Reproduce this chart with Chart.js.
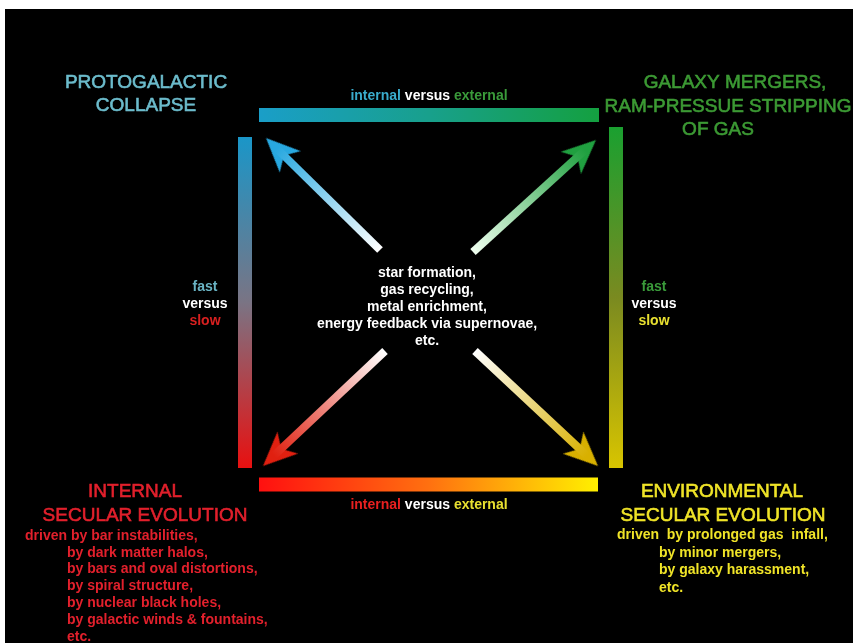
<!DOCTYPE html>
<html>
<head>
<meta charset="utf-8">
<style>
  html, body { margin: 0; padding: 0; background: #fff; }
  canvas { display: block; }
</style>
<script src="https://cdn.jsdelivr.net/npm/chart.js@4.4.0/dist/chart.umd.min.js"></script>
</head>
<body>
<canvas id="diagram" width="853" height="643"></canvas>
<script>
// frame edges, [x, y] of both ends
const edgeTop = [[259, 115], [599, 115]];
const edgeBottom = [[259, 484.5], [598, 484.5]];
const edgeLeft = [[245, 137], [245, 468]];
const edgeRight = [[616, 127], [616, 468]];

// arrows, [tail, tip]
const arrowNW = [[380, 250], [266, 138]];
const arrowNE = [[473, 252], [596, 140]];
const arrowSW = [[385, 351], [263, 466]];
const arrowSE = [[475, 351], [598, 466]];

// texts
const cornerTL = ['PROTOGALACTIC', 'COLLAPSE'];
const cornerTR = ['GALAXY MERGERS,', 'RAM-PRESSUE STRIPPING', 'OF GAS'];
const cornerBL = ['INTERNAL', 'SECULAR EVOLUTION'];
const cornerBR = ['ENVIRONMENTAL', 'SECULAR EVOLUTION'];
const internalDrivers = [
  'driven by bar instabilities,',
  'by dark matter halos,',
  'by bars and oval distortions,',
  'by spiral structure,',
  'by nuclear black holes,',
  'by galactic winds & fountains,',
  'etc.'
];
const environmentalDrivers = [
  'driven  by prolonged gas  infall,',
  'by minor mergers,',
  'by galaxy harassment,',
  'etc.'
];
const centerProcesses = [
  'star formation,',
  'gas recycling,',
  'metal enrichment,',
  'energy feedback via supernovae,',
  'etc.'
];
const originWords = ['internal', 'versus', 'external'];
const speedWords = ['fast', 'versus', 'slow'];

const TITLE_FONT = '19px "Liberation Sans", Arial, sans-serif';
const SMALL_FONT = 'bold 14px "Liberation Sans", Arial, sans-serif';

function lineGrad(chart, pts, stops) {
  const { ctx, scales: { x, y } } = chart;
  const g = ctx.createLinearGradient(
    x.getPixelForValue(pts[0][0]), y.getPixelForValue(pts[0][1]),
    x.getPixelForValue(pts[1][0]), y.getPixelForValue(pts[1][1])
  );
  stops.forEach((c, i) => g.addColorStop(i / (stops.length - 1), c));
  return g;
}

function edgeDataset(pts, stops) {
  return {
    data: pts.map(p => ({ x: p[0], y: p[1] })),
    borderWidth: 14,
    borderCapStyle: 'butt',
    pointRadius: 0,
    borderColor: (c) => c.chart.chartArea ? lineGrad(c.chart, pts, stops) : stops[0]
  };
}

function makeHead(color) {
  const cv = document.createElement('canvas');
  cv.width = 32;
  cv.height = 36;
  const c = cv.getContext('2d');
  c.fillStyle = color;
  c.beginPath();
  c.moveTo(16, 0);
  c.lineTo(31, 34);
  c.lineTo(16, 25);
  c.lineTo(1, 34);
  c.closePath();
  c.fill();
  return cv;
}

function arrowDatasets(pts, stops) {
  const [tail, tip] = pts;
  const dx = tip[0] - tail[0], dy = tip[1] - tail[1];
  const len = Math.hypot(dx, dy);
  const ux = dx / len, uy = dy / len;
  const shaftEnd = [tip[0] - ux * 15, tip[1] - uy * 15];
  const headAt = [tip[0] - ux * 18, tip[1] - uy * 18];
  const shaftPts = [tail, shaftEnd];
  return [
    {
      data: shaftPts.map(p => ({ x: p[0], y: p[1] })),
      borderWidth: 8,
      borderCapStyle: 'butt',
      pointRadius: 0,
      borderColor: (c) => c.chart.chartArea ? lineGrad(c.chart, shaftPts, stops) : stops[0]
    },
    {
      data: [{ x: headAt[0], y: headAt[1] }],
      showLine: false,
      pointStyle: makeHead(stops[stops.length - 1]),
      rotation: Math.atan2(dx, -dy) * 180 / Math.PI,
      pointRadius: 18
    }
  ];
}

const backdrop = {
  id: 'backdrop',
  beforeDraw(chart) {
    const { ctx, scales: { x, y } } = chart;
    ctx.save();
    ctx.fillStyle = '#000';
    ctx.fillRect(x.getPixelForValue(5), y.getPixelForValue(9), x.getPixelForValue(853) - x.getPixelForValue(5), y.getPixelForValue(643) - y.getPixelForValue(9));
    ctx.restore();
  }
};

const diagramText = {
  id: 'diagramText',
  afterDatasetsDraw(chart) {
    const { ctx, scales: { x, y } } = chart;
    const px = v => x.getPixelForValue(v);
    const py = v => y.getPixelForValue(v);
    ctx.save();
    ctx.textBaseline = 'middle';

    function centered(text, cx, cy, font, color, stroke) {
      ctx.font = font;
      ctx.fillStyle = color;
      ctx.textAlign = 'center';
      ctx.fillText(text, px(cx), py(cy));
      if (stroke) {
        ctx.strokeStyle = color;
        ctx.lineWidth = stroke;
        ctx.strokeText(text, px(cx), py(cy));
      }
    }
    function left(text, lx, cy, font, color) {
      ctx.font = font;
      ctx.fillStyle = color;
      ctx.textAlign = 'left';
      ctx.fillText(text, px(lx), py(cy));
    }
    function parts(words, colors, cx, cy) {
      ctx.font = SMALL_FONT;
      ctx.textAlign = 'left';
      const sp = ctx.measureText(' ').width;
      const total = words.reduce((s, w) => s + ctx.measureText(w).width, 0) + sp * (words.length - 1);
      let cur = px(cx) - total / 2;
      words.forEach((w, i) => {
        ctx.fillStyle = colors[i];
        ctx.fillText(w, cur, py(cy));
        cur += ctx.measureText(w).width + sp;
      });
    }

    // corner titles
    centered(cornerTL[0], 146, 82.5, TITLE_FONT, '#6cbccc', 0.6);
    centered(cornerTL[1], 146, 106, TITLE_FONT, '#6cbccc', 0.6);
    centered(cornerTR[0], 735, 83, TITLE_FONT, '#3c9a34', 0.6);
    centered(cornerTR[1], 728, 107, TITLE_FONT, '#3c9a34', 0.6);
    centered(cornerTR[2], 718, 130, TITLE_FONT, '#3c9a34', 0.6);
    centered(cornerBL[0], 135, 492, TITLE_FONT, '#e2202c', 0.6);
    centered(cornerBL[1], 145, 516, TITLE_FONT, '#e2202c', 0.6);
    centered(cornerBR[0], 722, 492, TITLE_FONT, '#f0e428', 0.6);
    centered(cornerBR[1], 723, 516, TITLE_FONT, '#f0e428', 0.6);

    // driver lists
    internalDrivers.forEach((t, i) => {
      left(t, i === 0 ? 25 : 67, 536 + i * 16.8, SMALL_FONT, '#e2202c');
    });
    environmentalDrivers.forEach((t, i) => {
      left(t, i === 0 ? 617 : 659, 535 + i * 17.8, SMALL_FONT, '#f0e428');
    });

    // centre block
    centerProcesses.forEach((t, i) => {
      centered(t, 427, 273 + i * 17, SMALL_FONT, '#ffffff');
    });

    // axis captions
    parts(originWords, ['#3aaccc', '#ffffff', '#3a9a3a'], 429, 96);
    parts(originWords, ['#e82020', '#ffffff', '#e8e030'], 429, 505);
    const leftSpeed = ['#6ab4c4', '#ffffff', '#d82020'];
    const rightSpeed = ['#3a9a3a', '#ffffff', '#e8e030'];
    speedWords.forEach((w, i) => {
      centered(w, 205, 287.5 + i * 17, SMALL_FONT, leftSpeed[i]);
      centered(w, 654, 287.5 + i * 17, SMALL_FONT, rightSpeed[i]);
    });

    ctx.restore();
  }
};

new Chart(document.getElementById('diagram'), {
  type: 'line',
  data: {
    datasets: [
      edgeDataset(edgeTop, ['#1a9ec8', '#18a08c', '#14a040']),
      edgeDataset(edgeBottom, ['#ff1010', '#ff7010', '#fff000']),
      edgeDataset(edgeLeft, ['#1a96c8', '#7a7484', '#e81010']),
      edgeDataset(edgeRight, ['#1aa030', '#7a8a20', '#d8c400']),
      ...arrowDatasets(arrowNW, ['#ffffff', '#28a8e0']),
      ...arrowDatasets(arrowNE, ['#f0fff0', '#20a040']),
      ...arrowDatasets(arrowSW, ['#ffffff', '#e02010']),
      ...arrowDatasets(arrowSE, ['#ffffff', '#d8b000'])
    ]
  },
  options: {
    responsive: false,
    animation: false,
    events: [],
    layout: { padding: 0, autoPadding: false },
    plugins: {
      legend: { display: false },
      tooltip: { enabled: false }
    },
    scales: {
      x: { type: 'linear', min: 0, max: 853, display: false },
      y: { type: 'linear', min: 0, max: 643, reverse: true, display: false }
    }
  },
  plugins: [backdrop, diagramText]
});
</script>
</body>
</html>
